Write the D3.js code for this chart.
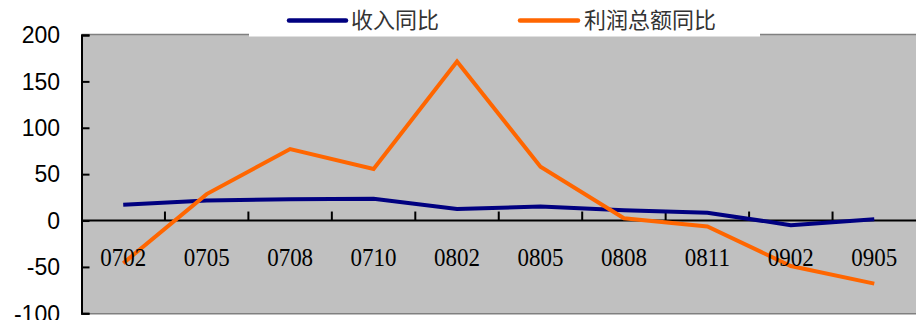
<!DOCTYPE html>
<html>
<head>
<meta charset="utf-8">
<script src="https://cdn.jsdelivr.net/npm/d3@7/dist/d3.min.js"></script>
<style>
  html, body { margin: 0; padding: 0; background: #fff; }
  svg { display: block; }
</style>
</head>
<body>
<svg id="chart" width="916" height="320"></svg>
<script>
const categories = ["0702","0705","0708","0710","0802","0805","0808","0811","0902","0905"];
const revenueYoY = [17, 21.5, 23, 23.5, 12.5, 15, 11, 8.5, -5, 1.5];
const profitYoY  = [-46, 28.5, 77, 55.5, 171.5, 58, 2.5, -6.5, -49, -68];
const yTicks = [-100, -50, 0, 50, 100, 150, 200];
const seriesNames = ["收入同比", "利润总额同比"];
const seriesColors = ["#000080", "#FF6600"];

(function () {
const svg = d3.select("#chart");
const pLeft = 81.5, pRight = 916, pTop = 35, pBottom = 313.3;

const x = d3.scaleBand().domain(categories).range([pLeft, pRight]).padding(0);
const y = d3.scaleLinear().domain([-100, 200]).range([pBottom, pTop]);

// plot area
svg.append("rect")
  .attr("x", pLeft).attr("y", pTop)
  .attr("width", pRight - pLeft).attr("height", pBottom - pTop)
  .attr("fill", "#C0C0C0");
// top & bottom borders
svg.append("line").attr("x1", pLeft).attr("x2", pRight).attr("y1", pTop - 0.5).attr("y2", pTop - 0.5)
  .attr("stroke", "#808080").attr("stroke-width", 1.5);
svg.append("line").attr("x1", pLeft).attr("x2", pRight).attr("y1", pBottom + 0.5).attr("y2", pBottom + 0.5)
  .attr("stroke", "#808080").attr("stroke-width", 1.5);

// y axis
const yAxis = d3.axisRight(y).tickValues(yTicks).tickSize(8).tickFormat("");
const yg = svg.append("g").attr("transform", `translate(${pLeft},0)`).call(yAxis);
yg.select(".domain").attr("stroke", "#000").attr("stroke-width", 2);
yg.selectAll(".tick line").attr("stroke", "#000").attr("stroke-width", 2);
svg.append("g").selectAll("text").data(yTicks).join("text")
  .attr("x", 60).attr("y", d => y(d))
  .attr("dy", "0.36em")
  .attr("text-anchor", "end")
  .attr("font-family", "'Liberation Sans', Arial, sans-serif")
  .attr("font-size", 23)
  .attr("fill", "#000")
  .text(d => d);

// x axis at zero
const boundaries = categories.slice(1).map(c => x(c));
const xg = svg.append("g");
xg.append("line").attr("x1", pLeft).attr("x2", pRight).attr("y1", y(0)).attr("y2", y(0))
  .attr("stroke", "#000").attr("stroke-width", 2);
xg.selectAll("line.tk").data(boundaries).join("line").attr("class", "tk")
  .attr("x1", d => d).attr("x2", d => d)
  .attr("y1", y(0)).attr("y2", y(0) - 9)
  .attr("stroke", "#000").attr("stroke-width", 2);

// lines
const line = d3.line().x((d, i) => x(categories[i]) + x.bandwidth() / 2).y(d => y(d));
[revenueYoY, profitYoY].forEach((s, k) => {
  svg.append("path").datum(s)
    .attr("d", line)
    .attr("fill", "none")
    .attr("stroke", seriesColors[k])
    .attr("stroke-width", 4)
    .attr("stroke-linejoin", "miter");
});

// x labels
svg.append("g").selectAll("text").data(categories).join("text")
  .attr("transform", d => `translate(${x(d) + x.bandwidth() / 2},265.5) scale(1,1.12)`)
  .attr("text-anchor", "middle")
  .attr("font-family", "'Liberation Serif', 'Times New Roman', serif")
  .attr("font-size", 23)
  .attr("fill", "#000")
  .text(d => d);

// legend
svg.append("rect").attr("x", 249).attr("y", 0).attr("width", 511).attr("height", 36.5).attr("fill", "#fff");
const legendItems = [
  { x1: 289, x2: 346, tx: 351 },
  { x1: 520, x2: 578, tx: 584 }
];
legendItems.forEach((it, k) => {
  svg.append("line").attr("x1", it.x1).attr("x2", it.x2).attr("y1", 20.5).attr("y2", 20.5)
    .attr("stroke", seriesColors[k]).attr("stroke-width", 4.5).attr("stroke-linecap", "round");
  svg.append("text").attr("x", it.tx).attr("y", 20.5).attr("dy", "0.36em")
    .attr("font-family", "'Noto Sans CJK SC', sans-serif")
    .attr("font-size", 22).attr("fill", "#333")
    .text(seriesNames[k]);
});
})();
</script>
</body>
</html>
